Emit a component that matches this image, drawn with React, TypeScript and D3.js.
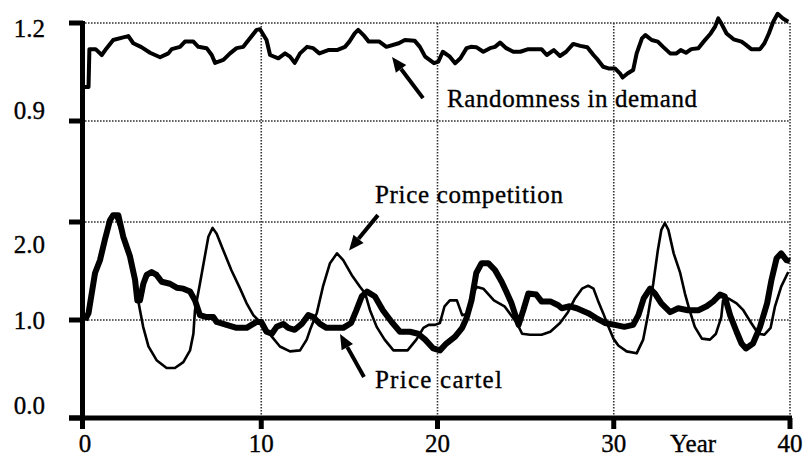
import * as d3 from 'd3';

// x axis (years) and the two y panels
const yearTicks = [0, 10, 20, 30, 40];
const topTicks = [1.2, 0.9];
const bottomTicks = [2.0, 1.0, 0.0];

// [year, value]
const demand: [number, number][] = [
  [0, 1.004], [0.2, 1.004], [0.25, 1.12], [0.6, 1.12], [0.95, 1.102], [1.23, 1.123], [1.6, 1.148],
  [2.17, 1.156], [2.46, 1.16], [2.74, 1.138], [3.2, 1.126], [3.69, 1.109], [4.26, 1.095], [4.73, 1.107],
  [4.92, 1.12], [5.39, 1.127], [5.67, 1.143], [6.15, 1.143], [6.43, 1.127], [6.9, 1.123], [7.19, 1.102],
  [7.38, 1.078], [7.85, 1.087], [8.23, 1.107], [8.6, 1.123], [8.98, 1.127], [9.36, 1.153], [9.74, 1.179],
  [9.93, 1.181], [10.3, 1.148], [10.5, 1.102], [10.97, 1.092], [11.35, 1.107], [11.63, 1.097], [11.9, 1.078],
  [12.2, 1.107], [12.6, 1.127], [12.95, 1.123], [13.3, 1.107], [13.8, 1.117], [14.3, 1.117], [14.75, 1.127],
  [15.0, 1.143], [15.3, 1.168], [15.5, 1.179], [15.8, 1.163], [16.1, 1.143], [16.7, 1.143], [17.1, 1.127],
  [17.8, 1.138], [18.15, 1.148], [18.7, 1.146], [19.0, 1.127], [19.3, 1.097], [19.8, 1.077], [20.05, 1.082],
  [20.3, 1.112], [20.7, 1.097], [21.0, 1.077], [21.3, 1.092], [21.65, 1.123], [21.9, 1.127], [22.2, 1.126],
  [22.6, 1.112], [22.98, 1.123], [23.26, 1.127], [23.55, 1.14], [23.9, 1.123], [24.3, 1.112], [24.7, 1.112],
  [25.15, 1.12], [25.9, 1.12], [26.2, 1.102], [26.6, 1.117], [26.95, 1.099], [27.3, 1.112], [27.7, 1.136],
  [28.1, 1.13], [28.5, 1.126], [28.85, 1.102], [29.1, 1.087], [29.4, 1.066], [29.7, 1.061], [30.07, 1.061],
  [30.35, 1.046], [30.5, 1.033], [30.8, 1.046], [31.1, 1.056], [31.3, 1.107], [31.6, 1.153], [31.8, 1.163],
  [32.15, 1.148], [32.5, 1.143], [32.8, 1.127], [33.2, 1.107], [33.56, 1.107], [33.8, 1.117], [34.1, 1.109],
  [34.4, 1.12], [34.8, 1.123], [35.1, 1.143], [35.5, 1.168], [35.75, 1.189], [35.93, 1.214], [36.1, 1.199],
  [36.4, 1.168], [36.8, 1.15], [37.25, 1.143], [37.5, 1.133], [37.8, 1.12], [38.3, 1.12], [38.55, 1.138],
  [38.8, 1.168], [39.05, 1.204], [39.3, 1.228], [39.6, 1.214], [39.9, 1.204],
];

const cartel: [number, number][] = [
  [0, 1.0], [0.2, 1.07], [0.57, 1.48], [0.85, 1.61], [1.13, 1.82], [1.42, 2.02], [1.6, 2.07], [1.89, 2.07],
  [2.17, 1.85], [2.55, 1.65], [2.84, 1.41], [2.97, 1.2], [3.12, 1.2], [3.31, 1.37], [3.5, 1.46], [3.78, 1.49],
  [4.06, 1.46], [4.35, 1.39], [4.82, 1.37], [5.2, 1.33], [5.58, 1.32], [5.96, 1.29], [6.24, 1.2], [6.52, 1.05],
  [6.9, 1.03], [7.28, 1.03], [7.47, 0.98], [8.03, 0.95], [8.6, 0.92], [9.17, 0.92], [9.45, 0.95], [9.74, 0.98],
  [10.0, 0.98], [10.3, 0.88], [10.6, 0.86], [10.87, 0.93], [11.25, 0.96], [11.53, 0.92], [11.9, 0.9],
  [12.3, 0.96], [12.67, 1.05], [12.95, 1.03], [13.33, 0.96], [13.7, 0.92], [14.65, 0.92], [15.1, 0.97],
  [15.4, 1.1], [15.7, 1.24], [16.0, 1.29], [16.45, 1.24], [16.9, 1.1], [17.4, 0.98], [17.87, 0.88],
  [18.44, 0.88], [18.9, 0.86], [19.3, 0.8], [19.76, 0.71], [20.14, 0.69], [20.5, 0.76], [21.0, 0.83],
  [21.4, 0.92], [21.65, 1.02], [21.93, 1.2], [22.2, 1.48], [22.5, 1.58], [22.88, 1.58], [23.26, 1.51],
  [23.64, 1.39], [23.9, 1.29], [24.2, 1.17], [24.6, 0.95], [24.87, 1.1], [25.15, 1.27], [25.6, 1.26],
  [25.9, 1.19], [26.4, 1.19], [26.85, 1.15], [27.05, 1.12], [27.5, 1.14], [27.9, 1.12], [28.55, 1.07],
  [29.0, 1.02], [29.5, 0.97], [30.07, 0.95], [30.6, 0.93], [31.1, 0.95], [31.4, 1.05], [31.7, 1.22],
  [32.06, 1.32], [32.34, 1.27], [32.7, 1.17], [33.2, 1.08], [33.66, 1.12], [34.2, 1.1], [34.8, 1.1],
  [35.27, 1.14], [35.65, 1.19], [36.03, 1.26], [36.3, 1.24], [36.6, 1.05], [36.97, 0.88], [37.25, 0.76],
  [37.5, 0.71], [37.9, 0.76], [38.3, 0.93], [38.7, 1.17], [38.95, 1.41], [39.24, 1.63], [39.5, 1.68],
  [39.8, 1.61], [40, 1.6],
];

const competition: [number, number][] = [
  [0, 1.0], [0.2, 1.07], [0.57, 1.48], [0.85, 1.61], [1.13, 1.82], [1.42, 2.02], [1.7, 2.07], [2.17, 1.85],
  [2.55, 1.65], [2.84, 1.41], [3.0, 1.22], [3.12, 1.1], [3.3, 0.93], [3.6, 0.73], [4.06, 0.59], [4.63, 0.51],
  [5.1, 0.51], [5.58, 0.57], [5.96, 0.69], [6.15, 0.86], [6.24, 1.1], [6.52, 1.37], [6.8, 1.65], [7.0, 1.85],
  [7.24, 1.94], [7.47, 1.88], [7.85, 1.71], [8.3, 1.51], [8.8, 1.32], [9.17, 1.17], [9.55, 1.05], [9.93, 0.98],
  [10.2, 0.93], [10.6, 0.83], [11.06, 0.73], [11.63, 0.68], [12.2, 0.69], [12.58, 0.8], [12.77, 0.9],
  [13.15, 1.07], [13.5, 1.34], [13.9, 1.58], [14.3, 1.68], [14.65, 1.61], [15.13, 1.46], [15.6, 1.34],
  [15.9, 1.27], [16.17, 1.1], [16.55, 0.93], [17.0, 0.8], [17.5, 0.69], [18.3, 0.69], [18.8, 0.8],
  [19.2, 0.92], [19.5, 0.95], [19.86, 0.95], [20.14, 0.97], [20.4, 1.14], [20.7, 1.2], [21.1, 1.2],
  [21.4, 1.05], [21.7, 1.06], [22.0, 1.25], [22.2, 1.34], [22.6, 1.32], [23.2, 1.2], [23.8, 1.14],
  [24.5, 0.97], [24.8, 0.86], [25.25, 0.85], [25.9, 0.85], [26.4, 0.88], [26.95, 0.97], [27.4, 1.08],
  [27.8, 1.22], [28.2, 1.32], [28.55, 1.35], [28.85, 1.32], [29.1, 1.2], [29.4, 1.07], [29.7, 0.93],
  [29.98, 0.81], [30.26, 0.74], [30.73, 0.68], [31.3, 0.66], [31.67, 0.8], [31.96, 1.07], [32.24, 1.37],
  [32.5, 1.71], [32.7, 1.92], [32.9, 1.99], [33.1, 1.92], [33.4, 1.68], [33.77, 1.48], [34.04, 1.27],
  [34.3, 1.1], [34.6, 0.93], [35.0, 0.81], [35.46, 0.8], [35.8, 0.86], [36.1, 1.03], [36.2, 1.2],
  [36.5, 1.22], [36.97, 1.17], [37.35, 1.1], [37.8, 0.97], [38.2, 0.86], [38.55, 0.85], [38.9, 0.92],
  [39.15, 1.14], [39.5, 1.34], [39.9, 1.49],
];

// annotations, placed in data units of their panel
const notes = [
  { text: 'Randomness in demand', top: true, at: [20.54, 0.943], len: 250 },
  { text: 'Price competition', top: false, at: [16.45, 2.19], len: 188 },
  { text: 'Price cartel', top: false, at: [16.45, 0.306], len: 127 },
];
const arrows = [
  { top: true, from: [19.18, 0.97], to: [17.42, 1.096] },
  { top: false, from: [16.62, 2.07], to: [14.98, 1.71] },
  { top: false, from: [15.83, 0.418], to: [14.47, 0.857] },
];

const W = 804;
const H = 459;
const font = '"Liberation Serif", "Times New Roman", serif';
const grid = { stroke: '#333', strokeWidth: 1.6, strokeDasharray: '1.6,1.4' };
const yNudge = new Map([[1.2, 5], [0.9, -11], [2.0, 22], [1.0, 0], [0.0, -13]]);

export default function App() {
  const x = d3.scaleLinear().domain([0, 40]).range([85, 790]);
  const yTop = d3.scaleLinear().domain([0.9, 1.2]).range([121, 23]);
  const yBot = d3.scaleLinear().domain([0, 2]).range([418, 222]);

  const topLine = d3.line<[number, number]>().x(d => x(d[0])).y(d => yTop(d[1]));
  const botLine = d3.line<[number, number]>().x(d => x(d[0])).y(d => yBot(d[1]));

  const x0 = x(0);
  const base = yBot(0);

  const arrowShape = (a: typeof arrows[number]) => {
    const y = a.top ? yTop : yBot;
    const x1 = x(a.from[0]), y1 = y(a.from[1]);
    const x2 = x(a.to[0]), y2 = y(a.to[1]);
    const ang = Math.atan2(y2 - y1, x2 - x1);
    const hl = 15, hw = 6.5;
    const bx = x2 - hl * Math.cos(ang), by = y2 - hl * Math.sin(ang);
    const px = -Math.sin(ang) * hw, py = Math.cos(ang) * hw;
    return { x1, y1, bx, by, head: `${x2},${y2} ${bx + px},${by + py} ${bx - px},${by - py}` };
  };

  return (
    <svg width={W} height={H} style={{ position: 'absolute', left: 0, top: 0, background: '#fff' }}>
      {/* dotted grid */}
      {[yTop(1.2), yTop(0.9), yBot(2), yBot(1)].map((gy, i) => (
        <line key={'h' + i} x1={x0} x2={x(40)} y1={gy} y2={gy} {...grid} />
      ))}
      {yearTicks.slice(1).map(t => (
        <line key={'v' + t} x1={x(t)} x2={x(t)} y1={yTop(1.2)} y2={base} {...grid} />
      ))}

      {/* series */}
      <path d={topLine(demand) ?? ''} fill="none" stroke="#000" strokeWidth={4} strokeLinejoin="round" />
      <path d={botLine(competition) ?? ''} fill="none" stroke="#000" strokeWidth={2.6} strokeLinejoin="round" />
      <path d={botLine(cartel) ?? ''} fill="none" stroke="#000" strokeWidth={6} strokeLinejoin="round" />

      {/* axes */}
      <line x1={x0 - 2.5} x2={x0 - 2.5} y1={yTop(1.2) - 2} y2={base + 10} stroke="#000" strokeWidth={5} />
      <line x1={x0 - 16} x2={x(40) + 2} y1={base} y2={base} stroke="#000" strokeWidth={5} />
      {[...topTicks.map(v => yTop(v)), ...bottomTicks.map(v => yBot(v))].map((ty, i) => (
        <line key={'yt' + i} x1={x0 - 16} x2={x0 - 2} y1={ty} y2={ty} stroke="#000" strokeWidth={5} />
      ))}
      {yearTicks.map(t => (
        <line key={'xt' + t} x1={x(t) - (t === 0 ? 2.5 : 0)} x2={x(t) - (t === 0 ? 2.5 : 0)} y1={base} y2={base + 11} stroke="#000" strokeWidth={5} />
      ))}

      {/* tick labels */}
      <g fontFamily={font} fontSize={25} fill="#000" stroke="#000" strokeWidth={0.35}>
        {topTicks.map(v => (
          <text key={'tl' + v} x={45} y={yTop(v) + (yNudge.get(v) ?? 0)} textAnchor="end" dominantBaseline="central">
            {v.toFixed(1)}
          </text>
        ))}
        {bottomTicks.map(v => (
          <text key={'bl' + v} x={45} y={yBot(v) + (yNudge.get(v) ?? 0)} textAnchor="end" dominantBaseline="central">
            {v.toFixed(1)}
          </text>
        ))}
        {yearTicks.map(t => (
          <text key={'xl' + t} x={x(t)} y={452} textAnchor="middle">{t}</text>
        ))}
        <text x={670} y={452}>Year</text>
      </g>

      {/* annotations */}
      <g fontFamily={font} fontSize={25} fill="#000" stroke="#000" strokeWidth={0.35}>
        {notes.map(n => (
          <text key={n.text} x={x(n.at[0])} y={(n.top ? yTop : yBot)(n.at[1])} textLength={n.len} lengthAdjust="spacing">
            {n.text}
          </text>
        ))}
      </g>
      {arrows.map((a, i) => {
        const s = arrowShape(a);
        return (
          <g key={'a' + i}>
            <line x1={s.x1} y1={s.y1} x2={s.bx} y2={s.by} stroke="#000" strokeWidth={4} />
            <polygon points={s.head} fill="#000" />
          </g>
        );
      })}
    </svg>
  );
}
